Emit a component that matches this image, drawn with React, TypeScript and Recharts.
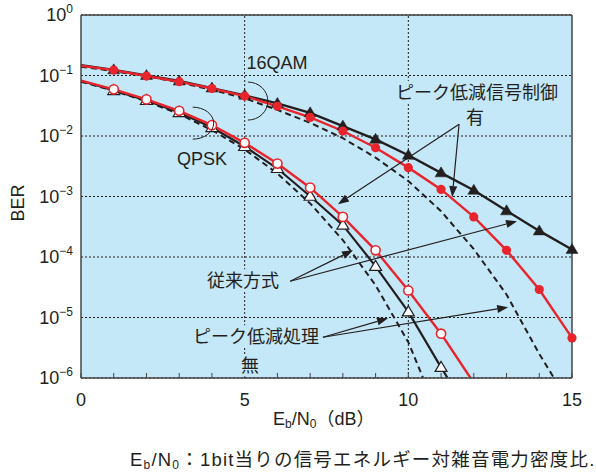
import React from 'react';
import {
  LineChart,
  Line,
  XAxis,
  YAxis,
  CartesianGrid,
  ReferenceLine,
  ReferenceDot
} from 'recharts';

// Eb/N0 (dB) と BER
const qam16TriSnr = [0, 1, 2, 3, 4, 5, 6, 7, 8, 9, 10, 11, 12, 13, 14, 15];
const qam16TriBer = [0.148, 0.124, 0.1, 0.081, 0.062, 0.047, 0.0346, 0.0242, 0.0146, 0.0088, 0.0048, 0.00246, 0.00127, 5.8e-4, 2.7e-4, 1.33e-4];

const qam16DotSnr = [0, 1, 2, 3, 4, 5, 6, 7, 8, 9, 10, 11, 12, 13, 14, 15];
const qam16DotBer = [0.145, 0.123, 0.098, 0.079, 0.061, 0.0457, 0.031, 0.0203, 0.0121, 0.0064, 0.003, 0.00131, 4.6e-4, 1.29e-4, 2.9e-5, 4.6e-6];

const qam16DashSnr = [0, 1, 2, 3, 4, 5, 6, 7, 8, 9, 10, 11, 12, 13, 14, 14.45];
const qam16DashBer = [0.14, 0.118, 0.097, 0.077, 0.058, 0.042, 0.027, 0.0165, 0.0092, 0.0044, 0.0018, 5.7e-4, 1.35e-4, 2.4e-5, 2.5e-6, 1e-6];

const qpskTriSnr = [0, 1, 2, 3, 4, 5, 6, 7, 8, 9, 10, 11, 11.2];
const qpskTriBer = [0.082, 0.0564, 0.0386, 0.0244, 0.0138, 0.0067, 0.0029, 0.00101, 3.36e-4, 7.0e-5, 1.24e-5, 1.5e-6, 1e-6];

const qpskDotSnr = [0, 1, 2, 3, 4, 5, 6, 7, 8, 9, 10, 11, 11.9];
const qpskDotBer = [0.082, 0.059, 0.0403, 0.0261, 0.0151, 0.0077, 0.0035, 0.0014, 4.6e-4, 1.29e-4, 2.8e-5, 5.4e-6, 1e-6];

const qpskDashSnr = [0, 1, 2, 3, 4, 5, 6, 7, 8, 9, 10, 10.45];
const qpskDashBer = [0.079, 0.056, 0.0375, 0.023, 0.0125, 0.006, 0.0024, 7.7e-4, 1.9e-4, 3.4e-5, 3.9e-6, 1e-6];

const xGridTicks = [0, 5, 10, 15];
const xMinorTicks = [0, 1, 2, 3, 4, 5, 6, 7, 8, 9, 10, 11, 12, 13, 14, 15];
const yTicks = [1e-6, 1e-5, 1e-4, 1e-3, 1e-2, 1e-1, 1];

// 注記（位置はグラフ座標）
const labels = [
  { x: 5.99, y: 0.161, text: '16QAM', w: 64 },
  { x: 3.7, y: 0.0043, text: 'QPSK', w: 52 },
  { x: 12.1, y: 0.0532, text: 'ピーク低減信号制御', w: 164 },
  { x: 12.04, y: 0.0205, text: '有', w: 22 },
  { x: 4.95, y: 4.13e-5, text: '従来方式', w: 80 },
  { x: 5.35, y: 4.9e-6, text: 'ピーク低減処理', w: 128 },
  { x: 5.16, y: 1.62e-6, text: '無', w: 20 }
];

const arrows = [
  { from: [11.55, 0.0157], to: [7.85, 7.47e-4] },
  { from: [11.55, 0.0157], to: [11.34, 9.76e-4] },
  { from: [6.39, 3.98e-5], to: [8.31, 1.29e-4] },
  { from: [6.39, 3.98e-5], to: [13.32, 3.91e-4] },
  { from: [7.39, 4.71e-6], to: [9.38, 9.7e-6] },
  { from: [7.39, 4.71e-6], to: [13.05, 1.48e-5] }
];

const braces = [
  { x: 5.22, y: 0.0378, rx: 20, ry: 19 },
  { x: 3.54, y: 0.0163, rx: 21, ry: 16 }
];

const toRows = (snr: number[], ber: number[]) => snr.map((s, i) => ({ snr: s, ber: ber[i] }));

const BG = '#c5e8f8';
const RED = '#e8252d';
const INK = '#231f20';
const FONT = "'Liberation Sans', 'Noto Sans CJK JP', sans-serif";

const makeDot = (kind: 'tri' | 'circle', filled: boolean) => (props: any) => {
  const { cx, cy, payload, index } = props;
  const s = payload?.snr;
  if (cx == null || cy == null || s < 1 || !Number.isInteger(s)) return <g key={index} />;
  if (kind === 'circle') {
    return (
      <circle key={index} cx={cx} cy={cy} r={4.6}
        fill={filled ? RED : '#fff'} stroke={RED} strokeWidth={filled ? 0 : 1.6} />
    );
  }
  return (
    <polygon key={index}
      points={`${cx},${cy - 6} ${cx - 6},${cy + 4} ${cx + 6},${cy + 4}`}
      fill={filled ? INK : '#fff'} stroke={INK} strokeWidth={filled ? 0.5 : 1.2} />
  );
};

const YTick = (props: any) => {
  const { x, y, payload } = props;
  const exp = Math.round(Math.log10(payload.value));
  return (
    <text x={x} y={y} dy="0.36em" textAnchor="end" fontSize={18} fill={INK} fontFamily={FONT}>
      <tspan>10</tspan>
      <tspan dy={-8} fontSize={12}>{exp === 0 ? '0' : `\u2212${-exp}`}</tspan>
    </text>
  );
};

const XTick = (props: any) => {
  const { x, y, payload } = props;
  if (payload.value % 5 !== 0) return <g />;
  return (
    <text x={x} y={y} dy="0.71em" textAnchor="middle" fontSize={18} fill={INK} fontFamily={FONT}>
      {payload.value}
    </text>
  );
};

const arrowShape = (props: any) => {
  const { x1, y1, x2, y2 } = props;
  const dx = x2 - x1;
  const dy = y2 - y1;
  const len = Math.sqrt(dx * dx + dy * dy) || 1;
  const ux = dx / len;
  const uy = dy / len;
  const hl = 11;
  const hw = 4;
  const bx = x2 - ux * hl;
  const by = y2 - uy * hl;
  return (
    <g>
      <line x1={x1} y1={y1} x2={bx} y2={by} stroke={INK} strokeWidth={1.2} />
      <polygon
        points={`${x2},${y2} ${bx - uy * hw},${by + ux * hw} ${bx + uy * hw},${by - ux * hw}`}
        fill={INK} />
    </g>
  );
};

const labelShape = (text: string, w: number) => (props: any) => {
  const { cx, cy } = props;
  return (
    <g>
      <rect x={cx - w / 2} y={cy - 11} width={w} height={22} fill={BG} />
      <text x={cx} y={cy} dy="0.36em" textAnchor="middle" fontSize={18} fill={INK} fontFamily={FONT}>
        {text}
      </text>
    </g>
  );
};

const braceShape = (rx: number, ry: number) => (props: any) => {
  const { cx, cy } = props;
  const sx = cx - rx * 0.2;
  return (
    <path
      d={`M ${sx} ${cy - ry} A ${rx} ${ry} 0 1 1 ${sx} ${cy + ry}`}
      fill="none" stroke={INK} strokeWidth={1} />
  );
};

const subStyle: React.CSSProperties = { fontSize: 12, verticalAlign: -3, lineHeight: 1 };

export default function App() {
  return (
    <div style={{ position: 'absolute', left: 0, top: 0, width: 596, height: 474, background: '#fff', fontFamily: FONT, color: INK }}>
      <LineChart width={596} height={440} margin={{ top: 14, right: 23, bottom: 61, left: 0 }}>
        <CartesianGrid vertical={false} stroke={INK} strokeDasharray="2 2" fill={BG} />
        <XAxis dataKey="snr" type="number" domain={[0, 15]} ticks={xMinorTicks} interval={0}
          tickSize={-5} tickMargin={20} height={1} tick={<XTick />}
          axisLine={{ stroke: '#444', strokeWidth: 1.5 }} tickLine={{ stroke: '#444' }} />
        <XAxis xAxisId="top" orientation="top" dataKey="snr" type="number" domain={[0, 15]}
          ticks={xMinorTicks} interval={0} tickSize={-5} height={1} tick={false}
          axisLine={{ stroke: '#444', strokeWidth: 1.5 }} tickLine={{ stroke: '#444' }} />
        <YAxis scale="log" type="number" domain={[1e-6, 1]} allowDataOverflow ticks={yTicks}
          interval={0} width={81} tickLine={false} tick={<YTick />}
          axisLine={{ stroke: '#444', strokeWidth: 1.5 }} />
        <YAxis yAxisId="right" orientation="right" scale="log" type="number" domain={[1e-6, 1]}
          allowDataOverflow width={1} tick={false} tickLine={false}
          axisLine={{ stroke: '#444', strokeWidth: 1.5 }} />

        {xGridTicks.slice(1, 3).map((v) => (
          <ReferenceLine key={`g${v}`} x={v} stroke={INK} strokeDasharray="2 2" />
        ))}

        {labels.map((l) => (
          <ReferenceDot key={l.text} x={l.x} y={l.y} r={0} shape={labelShape(l.text, l.w)} />
        ))}

        <Line data={toRows(qam16DashSnr, qam16DashBer)} dataKey="ber" stroke={INK} strokeWidth={2}
          strokeDasharray="6 4" dot={false} isAnimationActive={false} />
        <Line data={toRows(qpskDashSnr, qpskDashBer)} dataKey="ber" stroke={INK} strokeWidth={2}
          strokeDasharray="6 4" dot={false} isAnimationActive={false} />
        <Line data={toRows(qam16TriSnr, qam16TriBer)} dataKey="ber" stroke={INK} strokeWidth={2.4}
          dot={makeDot('tri', true)} isAnimationActive={false} />
        <Line data={toRows(qpskTriSnr, qpskTriBer)} dataKey="ber" stroke={INK} strokeWidth={2.2}
          dot={makeDot('tri', false)} isAnimationActive={false} />
        <Line data={toRows(qam16DotSnr, qam16DotBer)} dataKey="ber" stroke={RED} strokeWidth={2.4}
          dot={makeDot('circle', true)} isAnimationActive={false} />
        <Line data={toRows(qpskDotSnr, qpskDotBer)} dataKey="ber" stroke={RED} strokeWidth={2.4}
          dot={makeDot('circle', false)} isAnimationActive={false} />

        {arrows.map((a, i) => (
          <ReferenceLine key={`a${i}`}
            segment={[{ x: a.from[0], y: a.from[1] }, { x: a.to[0], y: a.to[1] }]}
            shape={arrowShape} />
        ))}
        {braces.map((b, i) => (
          <ReferenceDot key={`b${i}`} x={b.x} y={b.y} r={0} shape={braceShape(b.rx, b.ry)} />
        ))}
      </LineChart>

      <div style={{ position: 'absolute', left: 18, top: 203, transform: 'translate(-50%, -50%) rotate(-90deg)', fontSize: 18, whiteSpace: 'nowrap' }}>
        BER
      </div>
      <div style={{ position: 'absolute', left: 273, top: 408, fontSize: 18, lineHeight: '22px', whiteSpace: 'nowrap' }}>
        E<sub style={subStyle}>b</sub>/N<sub style={subStyle}>0</sub>（dB）
      </div>
      <div style={{ position: 'absolute', left: 130, top: 449, fontSize: 18.5, lineHeight: '22px', whiteSpace: 'nowrap', letterSpacing: 1.2 }}>
        E<sub style={subStyle}>b</sub>/N<sub style={subStyle}>0</sub>：1bit当りの信号エネルギー対雑音電力密度比.
      </div>
    </div>
  );
}
